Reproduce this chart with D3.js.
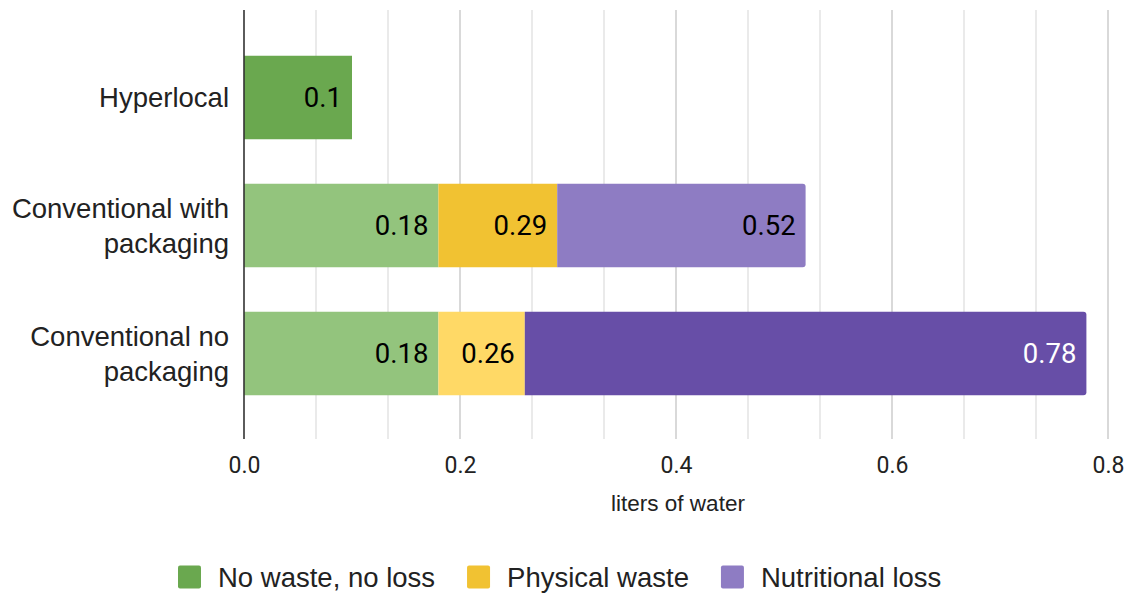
<!DOCTYPE html>
<html>
<head>
<meta charset="utf-8">
<script src="https://cdn.jsdelivr.net/npm/d3@7"></script>
<style>
  html, body { margin: 0; padding: 0; background: #fff; }
  svg { display: block; }
</style>
</head>
<body>
<svg id="chart" width="1134" height="595"></svg>
<script>
// Water use per scenario (liters of water); each value is where that segment ends on the bar
const categories = ["Hyperlocal", "Conventional with packaging", "Conventional no packaging"];
const categoryLines = [["Hyperlocal"], ["Conventional with", "packaging"], ["Conventional no", "packaging"]];
const seriesNames = ["No waste, no loss", "Physical waste", "Nutritional loss"];
const noWasteNoLoss = [0.1, 0.18, 0.18];
const physicalWaste = [null, 0.29, 0.26];
const nutritionalLoss = [null, 0.52, 0.78];
const xTicks = [0, 0.2, 0.4, 0.6, 0.8];
const xTickLabels = ["0.0", "0.2", "0.4", "0.6", "0.8"];
const axisTitle = "liters of water";

// Fill per category (rows) and series (columns)
const fills = [
  ["#6aa84f", "#f1c232", "#8e7cc3"],
  ["#93c47d", "#f1c232", "#8e7cc3"],
  ["#93c47d", "#ffd966", "#674ea7"]
];
const labelFills = [
  ["#000", "#000", "#000"],
  ["#000", "#000", "#000"],
  ["#000", "#000", "#fff"]
];
const legendFills = ["#6aa84f", "#f1c232", "#8e7cc3"];

const seriesValues = [noWasteNoLoss, physicalWaste, nutritionalLoss];

const svg = d3.select("#chart");
const plotTop = 10, plotBottom = 439;

const x = d3.scaleLinear().domain([0, 0.8]).range([244, 1108]);
const y = d3.scaleBand().domain(categories).range([33.5, 417.5])
  .paddingInner(0.348).paddingOuter(0.174);

// Gridlines: three intervals between labelled ticks
const gridG = svg.append("g");
const minorStep = 0.2 / 3;
const gridVals = d3.range(1, 13).map(i => i * minorStep);
gridG.selectAll("line").data(gridVals).join("line")
  .attr("x1", d => x(d)).attr("x2", d => x(d))
  .attr("y1", plotTop).attr("y2", plotBottom)
  .attr("stroke", (d, i) => ((i + 1) % 3 === 0) ? "#cccccc" : "#e3e3e3")
  .attr("stroke-width", 1.5);

// Stacked segments
const segments = [];
categories.forEach((c, ci) => {
  let prev = 0;
  const present = seriesValues.map(s => s[ci]).filter(v => v != null).length;
  let k = 0;
  seriesValues.forEach((s, si) => {
    const v = s[ci];
    if (v == null) return;
    k++;
    segments.push({ cat: c, ci, si, x0: prev, x1: v, last: k === present && present > 1 });
    prev = v;
  });
});

function segPath(d) {
  const x0 = x(d.x0), x1 = x(d.x1), y0 = y(d.cat), h = y.bandwidth();
  const r = d.last ? 3 : 0;
  return `M${x0},${y0}H${x1 - r}Q${x1},${y0} ${x1},${y0 + r}V${y0 + h - r}Q${x1},${y0 + h} ${x1 - r},${y0 + h}H${x0}Z`;
}

svg.append("g").selectAll("path").data(segments).join("path")
  .attr("d", segPath)
  .attr("fill", d => fills[d.ci][d.si]);

svg.append("g").selectAll("text").data(segments).join("text")
  .attr("x", d => x(d.x1) - 10)
  .attr("y", d => y(d.cat) + y.bandwidth() / 2)
  .attr("dy", "0.36em")
  .attr("text-anchor", "end")
  .attr("font-family", "Roboto, sans-serif")
  .attr("font-size", 27.5)
  .attr("fill", d => labelFills[d.ci][d.si])
  .text(d => String(d.x1));

// Baseline at zero
svg.append("line")
  .attr("x1", x(0)).attr("x2", x(0))
  .attr("y1", plotTop).attr("y2", plotBottom)
  .attr("stroke", "#333").attr("stroke-width", 1.6);

// X axis tick labels
const xAxis = d3.axisBottom(x).tickValues(xTicks)
  .tickFormat((d, i) => xTickLabels[i]).tickSize(0).tickPadding(0);
const axG = svg.append("g").attr("transform", `translate(0,${plotBottom})`).call(xAxis);
axG.select(".domain").remove();
axG.selectAll("text")
  .attr("y", 34).attr("dy", 0)
  .attr("font-family", "Roboto, sans-serif")
  .attr("font-size", 23)
  .attr("fill", "#222");

svg.append("text")
  .attr("x", (x(0) + x(0.8)) / 2 + 2).attr("y", 511)
  .attr("text-anchor", "middle")
  .attr("font-family", "'Liberation Sans', Arial, sans-serif")
  .attr("font-size", 22.5)
  .attr("fill", "#222")
  .text(axisTitle);

// Category labels
const catG = svg.append("g");
categories.forEach((c, ci) => {
  const lines = categoryLines[ci];
  const cy = y(c) + y.bandwidth() / 2;
  const t = catG.append("text")
    .attr("text-anchor", "end")
    .attr("font-family", "'Liberation Sans', Arial, sans-serif")
    .attr("font-size", 27.5)
    .attr("fill", "#222");
  lines.forEach((ln, li) => {
    const base = lines.length === 1 ? cy + 9 : cy + 10 + (li - 0.5) * 35;
    t.append("tspan").attr("x", 229).attr("y", base).text(ln);
  });
});

// Legend
const legend = svg.append("g");
let lx = 178;
seriesNames.forEach((name, i) => {
  legend.append("rect")
    .attr("x", lx).attr("y", 565.5).attr("width", 23).attr("height", 23)
    .attr("rx", 2).attr("fill", legendFills[i]);
  const t = legend.append("text")
    .attr("x", lx + 40).attr("y", 587)
    .attr("font-family", "'Liberation Sans', Arial, sans-serif")
    .attr("font-size", 27.5)
    .attr("fill", "#222")
    .text(name);
  lx += 40 + t.node().getComputedTextLength() + 32;
});
</script>
</body>
</html>
